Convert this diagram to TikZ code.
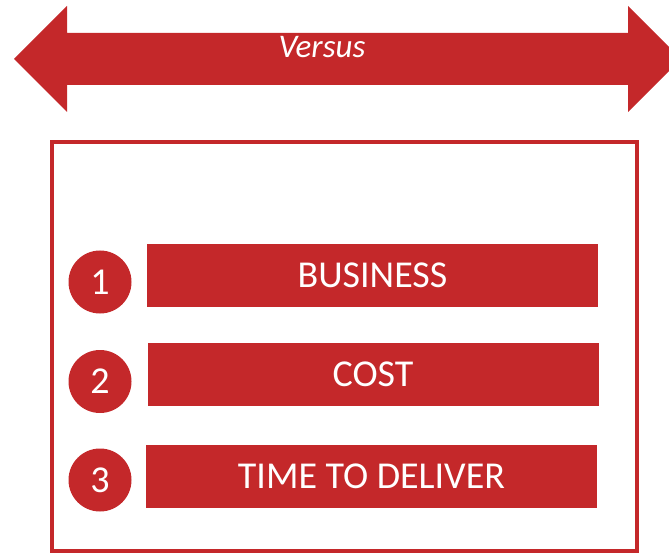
\documentclass[tikz,border=0pt]{standalone}
\usepackage{fontspec}
\setmainfont{Carlito}
\definecolor{vsred}{RGB}{196,40,42}
\tikzset{
	itembar/.style={fill=vsred, text=white, minimum width=451pt, minimum height=63pt, inner sep=0pt, font=\fontsize{38}{38}\selectfont},
	itemnum/.style={circle, fill=vsred, text=white, minimum size=63pt, inner sep=0pt, font=\fontsize{38}{38}\selectfont},
}
\begin{document}
\begin{tikzpicture}[x=1pt, y=-1pt]
		\useasboundingbox (0,0) rectangle (669,553);
		\clip (0,0) rectangle (669,553);
		% double arrow
		\fill[vsred] (14,59) -- (67,6) -- (67,33) -- (628,33) -- (628,6) -- (681,59) -- (628,112) -- (628,85) -- (67,85) -- (67,112) -- cycle;
		\node[text=white, font=\fontsize{33}{33}\selectfont\itshape] (versus) at (322,47) {Versus};
		
		\draw[vsred, line width=4pt] (52,142) rectangle (637,550.5);
		
		\node[itemnum] (n1) at (100,282) {1};
		\node[itemnum] (n2) at (100,381.5) {2};
		\node[itemnum] (n3) at (100,480) {3};
		
		\node[itembar] (business) at (372.5,275.5) {BUSINESS};
		\node[itembar] (cost) at (373,374.5) {COST};
		\node[itembar] (deliver) at (371.5,476.5) {TIME TO DELIVER};
		
	\end{tikzpicture}
\end{document}
